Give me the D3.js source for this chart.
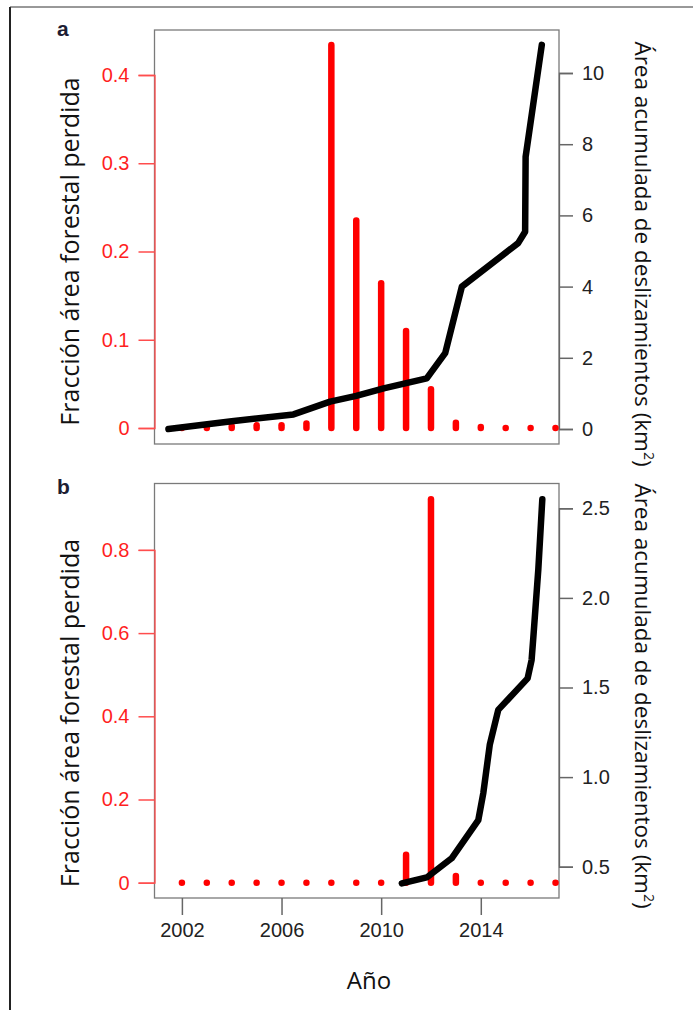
<!DOCTYPE html>
<html>
<head>
<meta charset="utf-8">
<script src="https://cdn.jsdelivr.net/npm/d3@7"></script>
<style>
  body { margin: 0; background: #fff; }
  svg { display: block; }
</style>
</head>
<body>
<svg id="chart" width="693" height="1010"></svg>
<script>
// data
const YEARS = [2002, 2003, 2004, 2005, 2006, 2007, 2008, 2009, 2010, 2011, 2012, 2013, 2014, 2015, 2016, 2017];
const LOSS_A = [0, 0.001, 0.002, 0.003, 0.003, 0.005, 0.434, 0.235, 0.164, 0.110, 0.044, 0.006, 0.001, 0, 0, 0];
const LOSS_B = [0, 0, 0, 0, 0, 0, 0, 0, 0, 0.067, 0.922, 0.016, 0, 0, 0, 0];

const CUM_YEAR_A = [2001.46, 2004.0, 2006.48, 2007.95, 2009.0, 2010.1, 2011.83, 2012.57, 2013.24, 2015.5, 2015.78, 2015.8, 2016.45];
const CUM_AREA_A = [0.0, 0.22, 0.41, 0.77, 0.93, 1.14, 1.42, 2.13, 4.0, 5.22, 5.54, 7.65, 10.79];
const CUM_YEAR_B = [2010.83, 2011.83, 2012.83, 2013.9, 2014.1, 2014.36, 2014.7, 2015.88, 2016.04, 2016.11, 2016.31, 2016.47];
const CUM_AREA_B = [0.407, 0.44, 0.547, 0.76, 0.91, 1.18, 1.375, 1.551, 1.653, 1.78, 2.16, 2.55];

const LEFT_TICKS_A = [0, 0.1, 0.2, 0.3, 0.4];
const RIGHT_TICKS_A = [0, 2, 4, 6, 8, 10];
const LEFT_TICKS_B = [0, 0.2, 0.4, 0.6, 0.8];
const RIGHT_TICKS_B = [0.5, 1.0, 1.5, 2.0, 2.5];
const X_TICKS = [2002, 2006, 2010, 2014];

const LEFT_TITLE = 'Fracción área forestal perdida';
const RIGHT_TITLE = 'Área acumulada de deslizamientos (km';
const X_TITLE = 'Año';

// layout
const BOX_LEFT = 154.5, BOX_RIGHT = 559;
const RED = '#ff1f1f';
const TICK_FONT = '"Liberation Sans", Arial, sans-serif';
const TITLE_FONT = '"Open Sans", sans-serif';
const TICK_SIZE = '20px';

const svg = d3.select('#chart');

// figure frame (only left and top edges are visible)
svg.append('line').attr('x1', 10).attr('x2', 10).attr('y1', 7).attr('y2', 1010)
    .attr('stroke', '#222').attr('stroke-width', 2);
svg.append('line').attr('x1', 10).attr('x2', 693).attr('y1', 7).attr('y2', 7)
    .attr('stroke', '#333').attr('stroke-width', 1);

const x = d3.scaleLinear().domain([2000.9, 2017.14]).range([BOX_LEFT, BOX_RIGHT]);

const panels = [
    { tag: 'a', tagY: 36, top: 30, bottom: 444, loss: LOSS_A, cumYear: CUM_YEAR_A, cumArea: CUM_AREA_A,
      left: d3.scaleLinear().domain([0, 0.4]).range([428, 75]), leftTicks: LEFT_TICKS_A, leftFmt: d3.format(''),
      right: d3.scaleLinear().domain([0, 10]).range([429, 73]), rightTicks: RIGHT_TICKS_A, rightFmt: d3.format('d'),
      leftTitleY: 251.5, rightTitleY: 254, xAxis: false },
    { tag: 'b', tagY: 494, top: 483.5, bottom: 898, loss: LOSS_B, cumYear: CUM_YEAR_B, cumArea: CUM_AREA_B,
      left: d3.scaleLinear().domain([0, 0.8]).range([882.7, 549.9]), leftTicks: LEFT_TICKS_B, leftFmt: d3.format(''),
      right: d3.scaleLinear().domain([0.5, 2.5]).range([866.7, 508.3]), rightTicks: RIGHT_TICKS_B, rightFmt: d3.format('.1f'),
      leftTitleY: 713, rightTitleY: 696, xAxis: true }
];

panels.forEach(drawPanel);

function drawPanel(p) {
    const g = svg.append('g').attr('class', 'panel-' + p.tag);

    // plot box
    g.append('rect')
        .attr('x', BOX_LEFT).attr('y', p.top)
        .attr('width', BOX_RIGHT - BOX_LEFT).attr('height', p.bottom - p.top)
        .attr('fill', 'none').attr('stroke', '#7a7a7a').attr('stroke-width', 1.3);

    // left axis (red)
    const la = g.append('g').attr('transform', `translate(${BOX_LEFT},0)`)
        .call(d3.axisLeft(p.left).tickValues(p.leftTicks).tickFormat(p.leftFmt)
            .tickSizeOuter(0).tickSize(16).tickPadding(9));
    la.select('.domain').attr('stroke', '#ff4d4d').attr('stroke-width', 1.3);
    la.selectAll('.tick line').attr('stroke', '#ff4d4d').attr('stroke-width', 1.5);
    la.selectAll('.tick text').attr('fill', RED)
        .style('font-family', TICK_FONT).style('font-size', TICK_SIZE);

    // right axis
    const ra = g.append('g').attr('transform', `translate(${BOX_RIGHT},0)`)
        .call(d3.axisRight(p.right).tickValues(p.rightTicks).tickFormat(p.rightFmt)
            .tickSizeOuter(0).tickSize(14).tickPadding(9));
    ra.select('.domain').attr('stroke', '#666').attr('stroke-width', 1.3);
    ra.selectAll('.tick line').attr('stroke', '#666').attr('stroke-width', 1.5);
    ra.selectAll('.tick text').attr('fill', '#222')
        .style('font-family', TICK_FONT).style('font-size', TICK_SIZE);

    // bottom axis only for panel b
    if (p.xAxis) {
        const xa = g.append('g').attr('transform', `translate(0,${p.bottom})`)
            .call(d3.axisBottom(x).tickValues(X_TICKS).tickFormat(d3.format('d'))
                .tickSizeOuter(0).tickSize(17).tickPadding(8));
        xa.select('.domain').remove();
        xa.selectAll('.tick line').attr('stroke', '#666').attr('stroke-width', 1.5);
        xa.selectAll('.tick text').attr('fill', '#222')
            .style('font-family', TICK_FONT).style('font-size', TICK_SIZE);
    }

    // red spikes (type "h")
    g.selectAll('.spike')
        .data(YEARS.map((yr, i) => ({ yr: yr, v: p.loss[i] })))
        .enter().append('line')
        .attr('class', 'spike')
        .attr('x1', d => x(d.yr)).attr('x2', d => x(d.yr))
        .attr('y1', p.left(0)).attr('y2', d => p.left(d.v))
        .attr('stroke', '#ff0000').attr('stroke-width', 6.5).attr('stroke-linecap', 'round');

    // cumulative landslide area
    const line = d3.line()
        .x(d => x(d[0]))
        .y(d => p.right(d[1]));
    g.append('path')
        .datum(p.cumYear.map((yr, i) => [yr, p.cumArea[i]]))
        .attr('d', line)
        .attr('fill', 'none').attr('stroke', '#000').attr('stroke-width', 6.5)
        .attr('stroke-linejoin', 'round').attr('stroke-linecap', 'round');

    // panel tag
    g.append('text')
        .attr('x', 57).attr('y', p.tagY)
        .style('font-family', TICK_FONT).style('font-weight', 'bold').style('font-size', '21px')
        .attr('fill', '#1d1d33').text(p.tag);

    // left title
    g.append('text')
        .attr('transform', `translate(70,${p.leftTitleY}) rotate(-90)`)
        .attr('text-anchor', 'middle').attr('dy', '0.35em')
        .style('font-family', TITLE_FONT).style('font-size', '25px')
        .attr('fill', '#111').text(LEFT_TITLE);

    // right title
    const rt = g.append('text')
        .attr('transform', `translate(643,${p.rightTitleY}) rotate(90)`)
        .attr('text-anchor', 'middle').attr('dy', '0.35em')
        .style('font-family', TITLE_FONT).style('font-size', '22.5px')
        .attr('fill', '#111');
    rt.append('tspan').text(RIGHT_TITLE);
    rt.append('tspan').attr('baseline-shift', 'super').style('font-size', '14px').text('2');
    rt.append('tspan').text(')');
}

// x title
svg.append('text')
    .attr('x', 369).attr('y', 989)
    .attr('text-anchor', 'middle')
    .style('font-family', TITLE_FONT).style('font-size', '24px')
    .attr('fill', '#111').text(X_TITLE);
</script>
</body>
</html>
